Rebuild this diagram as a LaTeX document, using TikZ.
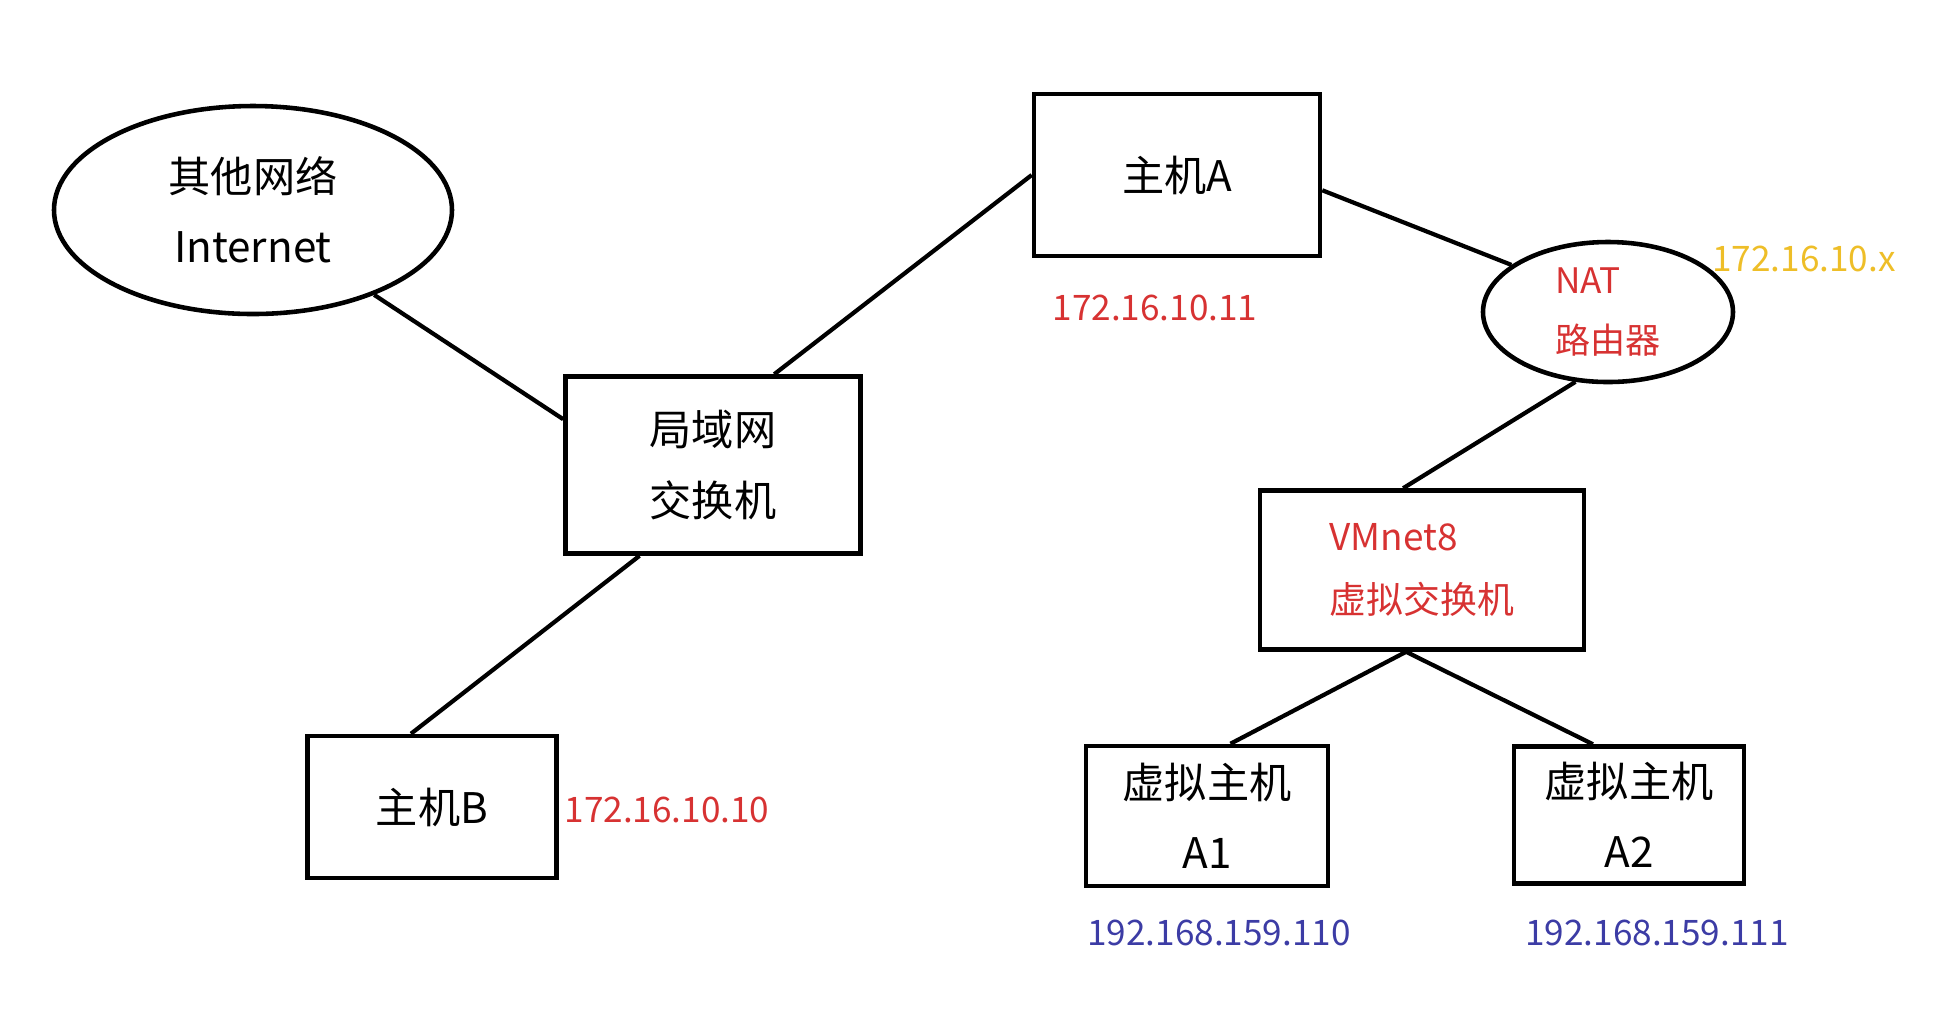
\documentclass[tikz,border=0pt]{standalone}
\usepackage{fontspec}
\setmainfont{Noto Sans CJK SC}
\usepackage{xcolor}
\usepackage{tikz}
\usetikzlibrary{shapes.geometric}

\definecolor{ipred}{RGB}{215,50,50}
\definecolor{ipgold}{RGB}{238,190,40}
\definecolor{ipblue}{RGB}{60,60,165}

\begin{document}
\begin{tikzpicture}[
  font=\fontsize{12}{20}\selectfont,
  box/.style={draw, line width=1.3pt, inner sep=2pt, align=center},
  oval/.style={draw, ellipse, line width=1.3pt, inner sep=0pt, align=center},
  link/.style={line width=1.2pt},
  ip/.style={font=\fontsize{10}{12}\selectfont, inner sep=1pt}
]
\useasboundingbox (0,0) rectangle (19.56,-10.12);

% networks and switches
\node[oval, minimum width=3.98cm, minimum height=2.08cm] (inet) at (2.53,-2.10) {其他网络\\Internet};
\node[box, minimum width=2.95cm, minimum height=1.77cm] (lan) at (7.13,-4.65) {局域网\\交换机};
\node[box, minimum width=2.86cm, minimum height=1.62cm] (hostA) at (11.77,-1.75) {主机A};
\node[box, minimum width=2.49cm, minimum height=1.42cm] (hostB) at (4.32,-8.07) {主机B};
\node[oval, minimum width=2.50cm, minimum height=1.40cm, text=ipred, align=left,
  font=\fontsize{10}{17}\selectfont] (nat) at (16.08,-3.12) {NAT\\路由器};
\node[box, minimum width=3.24cm, minimum height=1.59cm, text=ipred, align=left,
  font=\fontsize{10.5}{18}\selectfont] (vm) at (14.22,-5.70) {VMnet8\\虚拟交换机};
\node[box, minimum width=2.42cm, minimum height=1.40cm] (vhA1) at (12.07,-8.16) {虚拟主机\\A1};
\node[box, minimum width=2.30cm, minimum height=1.37cm] (vhA2) at (16.29,-8.15) {虚拟主机\\A2};

% addresses
\node[ip, text=ipred] (ipA) at (11.55,-3.08) {172.16.10.11};
\node[ip, text=ipred] (ipB) at (6.67,-8.10) {172.16.10.10};
\node[ip, text=ipgold] (ipNat) at (18.04,-2.59) {172.16.10.x};
\node[ip, text=ipblue] (ipA1) at (12.19,-9.33) {192.168.159.110};
\node[ip, text=ipblue] (ipA2) at (16.57,-9.33) {192.168.159.111};

% cables
\draw[link] (inet.-35) -- (lan.163);
\draw[link] (lan.56) -- (hostA.west);
\draw[link] (lan.-129) -- (hostB.106);
\draw[link] (hostA.-6) -- (nat.154);
\draw[link] (nat.-115) -- (vm.103);
\draw[link] (vm.-101) -- (vhA1.72);
\draw[link] (vm.-101) -- (vhA2.117);
\end{tikzpicture}
\end{document}
